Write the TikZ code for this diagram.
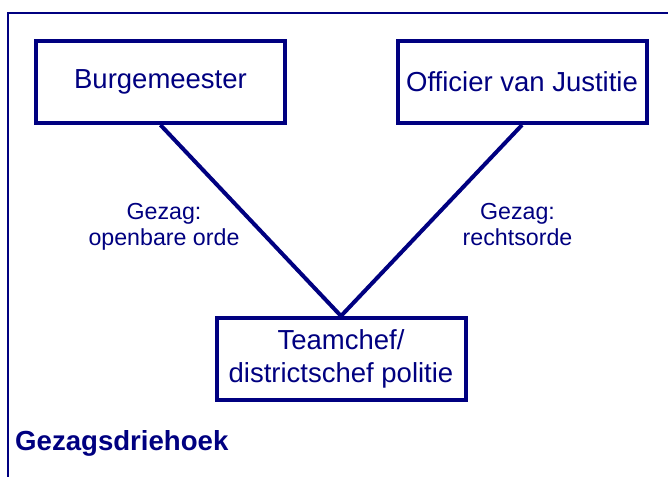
\documentclass[tikz,border=0pt]{standalone}
\usepackage{fontspec}
\setmainfont{Liberation Sans}
\usepackage{tikz}
\usetikzlibrary{positioning}

\definecolor{gezagblauw}{RGB}{0,0,128}
\tikzset{
	rol/.style = {draw = gezagblauw, line width = 4pt, minimum width = 249pt, minimum height = 82pt,
		inner sep = 0pt, align = center, text = gezagblauw, font = \fontsize{27.5}{33}\selectfont},
	gezag/.style = {align = center, text = gezagblauw, inner sep = 0pt, font = \fontsize{23.2}{25.5}\selectfont},
	lijn/.style = {draw = gezagblauw, line width = 4pt}
}

\begin{document}
\begin{tikzpicture}[x = 1pt, y = -1pt]
\useasboundingbox (0,0) rectangle (668,477);

\draw[gezagblauw, line width = 2pt] (668,13) -- (8,13) -- (8,477);

\node[rol] (burg) at (160.5,82) {Burgemeester};
\node[rol] (ovj) at (522,82) {Officier van Justitie};
\node[rol] (team) at (341,359) {Teamchef/\\districtschef politie};

\draw[lijn] (burg.south) -- (team.north);
\draw[lijn] (ovj.south) -- (team.north);

\node[gezag] (openbaar) at (164,227) {Gezag:\\openbare orde};
\node[gezag] (recht) at (517.5,224.5) {Gezag:\\rechtsorde};

\node[anchor = base west, text = gezagblauw, inner sep = 0pt, font = \bfseries\fontsize{27.6}{30}\selectfont] (titel) at (15,450) {Gezagsdriehoek};
\end{tikzpicture}
\end{document}
